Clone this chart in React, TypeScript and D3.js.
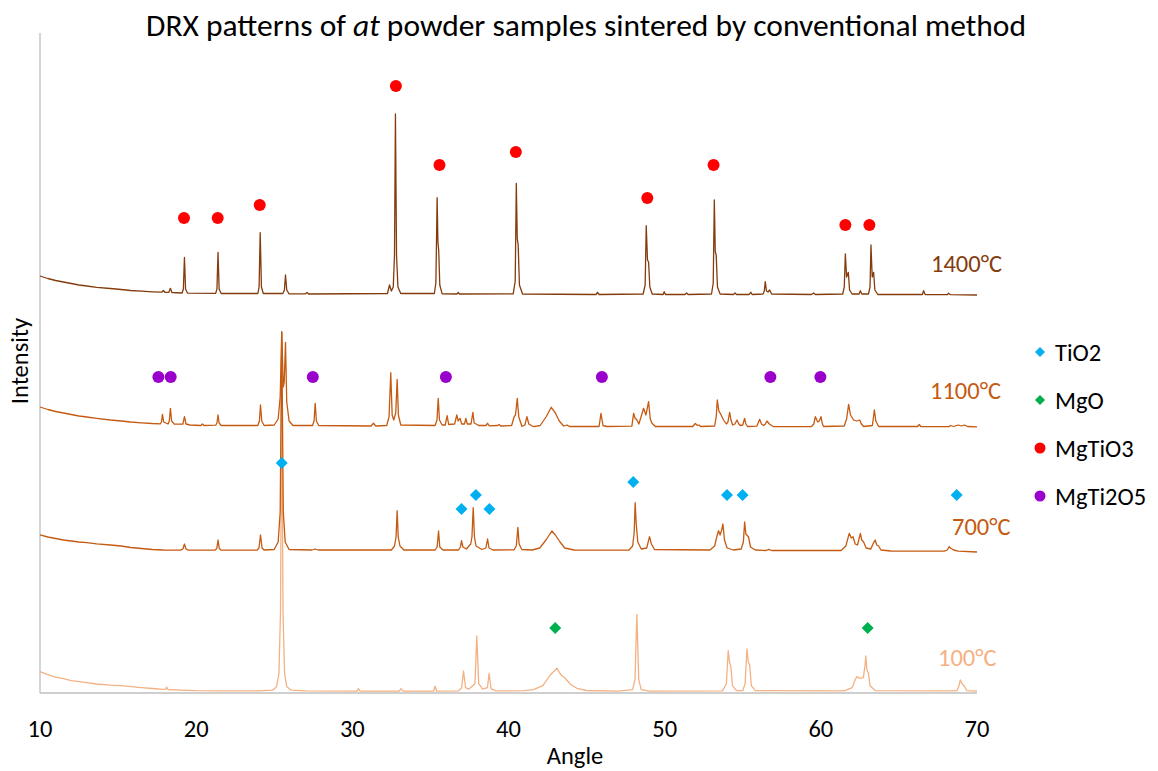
import React from "react";
import * as d3 from "d3";

// ---------- DATA ----------
const xTicks = [10, 20, 30, 40, 50, 60, 70];
const tempLabels = ["100°C", "700°C", "1100°C", "1400°C"];
const offsets = [1.3, 141, 266, 398];

const trace100: [number, number][] = [
  [10,20],[10.5,17],[11,14.5],[11.5,13],[12,11],[12.5,10],[13,9],[13.6,7.7],[14.5,6.5],[15.2,6],[15.8,5],[16.5,4],[17.2,3.2],[17.9,2.4],[18.05,2.5],[18.11,4.5],[18.2,2.2],[19,1.6],[20,1],[22,0.8],[24,0.8],[24.9,1.5],[25.15,5],[25.3,18],[25.4,80],[25.48,305],[25.56,80],[25.66,18],[25.8,5],[26.1,1.5],[27,0.8],[30.3,0.6],[30.39,3],[30.5,0.6],[33.0,0.5],[33.12,3],[33.25,0.5],[35.2,0.5],[35.3,5.7],[35.4,0.5],[36.8,0.8],[37.0,4],[37.12,20.7],[37.25,4],[37.45,2.5],[37.85,8],[37.97,55.7],[38.09,8],[38.35,2.5],[38.65,4],[38.76,18.4],[38.88,3],[39.2,0.8],[41,1],[41.6,2],[42.2,6],[42.67,16.7],[43.1,23.4],[43.35,17],[43.63,13.4],[44.0,7],[44.38,3.4],[45,1.2],[47,0.6],[47.95,2],[48.1,12],[48.22,77.4],[48.34,12],[48.5,2],[49,0.6],[53.7,0.8],[53.95,8],[54.07,41],[54.15,30],[54.24,25],[54.34,6],[54.6,1],[55.0,1],[55.15,8],[55.27,42.7],[55.35,30],[55.44,26.7],[55.55,6],[55.8,1],[61.5,0.8],[62.0,4],[62.2,12],[62.3,15],[62.52,13.4],[62.72,14],[62.82,25],[62.88,35.7],[62.95,22],[63.05,18.4],[63.15,6],[63.5,1],[68.7,0.8],[68.85,6],[68.93,11.7],[69.05,8],[69.18,5.7],[69.35,1],[70,0.5],
];

const trace700: [number, number][] = [
  [10,17.2],[10.5,15],[11,13.5],[11.5,12],[12,11],[12.5,10],[13,9.3],[13.63,8.2],[14.5,7],[15.2,6],[15.8,4.5],[16.5,3.5],[17.2,2.5],[17.9,2],[19,1.8],[19.15,3],[19.25,8],[19.35,3],[19.5,1.8],[21.2,1.8],[21.32,3.5],[21.4,12],[21.48,3.5],[21.6,1.8],[23.9,1.8],[24.02,4],[24.12,17],[24.22,4],[24.35,2],[25.0,2.5],[25.25,10],[25.38,40],[25.48,220],[25.58,40],[25.7,10],[25.95,2.5],[27.4,2],[27.62,3],[27.8,2],[32.5,2],[32.7,6],[32.8,15],[32.87,41.3],[32.94,15],[33.05,6],[33.3,2],[35.3,2],[35.43,5],[35.52,21],[35.6,5],[35.8,2],[36.8,2],[36.92,5],[36.99,11.3],[37.08,5],[37.3,3],[37.58,8],[37.66,15],[37.74,44.3],[37.82,15],[37.92,6],[38.3,2.5],[38.55,4],[38.66,13],[38.75,4],[39,2],[40.35,2.2],[40.5,6],[40.6,24.7],[40.68,8],[40.85,2.5],[41.5,2],[42.0,4],[42.4,12],[42.78,21],[43.0,17],[43.3,10],[43.6,4],[44.2,2],[47.7,1.8],[47.95,6],[48.05,20],[48.11,49.3],[48.18,28],[48.28,10],[48.5,3],[48.85,4],[49.03,15.3],[49.15,8],[49.35,2.5],[52.9,2],[53.2,6],[53.35,16],[53.45,21.3],[53.55,17],[53.65,22],[53.73,28],[53.83,12],[54.0,4],[54.4,2],[54.9,3],[55.04,10],[55.12,30],[55.2,18],[55.37,15],[55.5,5],[55.8,2],[56.5,1.5],[56.66,2.7],[56.85,1.5],[61.3,1.5],[61.6,6],[61.82,18.7],[61.95,14],[62.06,15.3],[62.2,8],[62.35,7],[62.53,18.7],[62.62,12],[62.74,10],[62.9,4],[63.2,3],[63.4,10],[63.48,12],[63.58,7],[63.7,6],[63.85,2],[64.5,1],[67.9,0.8],[68.1,2],[68.21,5.3],[68.3,4],[68.5,2],[68.8,0.8],[70,0],
];

const trace1100: [number, number][] = [
  [10,20],[10.5,17.5],[11,15.5],[11.5,14],[12,12.5],[12.5,11],[13,10],[13.63,8.7],[14.5,7],[15.2,6],[15.8,5],[16.5,4.2],[17.2,3.5],[17.7,3.2],[17.78,5],[17.84,12.7],[17.92,5],[18.2,3],[18.28,6],[18.35,18.7],[18.43,6],[18.6,2.8],[19.15,3],[19.25,10.3],[19.35,3],[19.6,2],[20.3,1.5],[20.4,3],[20.5,1.5],[21.25,1.8],[21.33,4],[21.4,12],[21.47,4],[21.6,1.5],[23.95,1.5],[24.05,6],[24.12,22],[24.2,6],[24.35,1.5],[25.0,2],[25.25,8],[25.38,30],[25.48,95.3],[25.58,40],[25.64,45],[25.72,84.7],[25.8,25],[25.95,6],[26.2,1.5],[27.45,1.5],[27.55,6],[27.62,23.7],[27.7,6],[27.85,1.5],[31.2,1],[31.35,3.7],[31.5,1],[32.2,1.5],[32.35,10],[32.46,54.3],[32.55,12],[32.65,7],[32.78,14],[32.87,47.7],[32.95,12],[33.1,2],[35.3,1.5],[35.42,7],[35.5,28.7],[35.58,7],[35.75,2],[35.95,2],[36.07,11.3],[36.17,2.5],[36.55,3],[36.69,12],[36.78,6],[36.9,8.7],[37.0,3],[37.18,3],[37.27,8.7],[37.36,3],[37.6,3],[37.72,14.7],[37.8,4],[38.1,1.5],[38.55,1.5],[38.66,3.7],[38.77,1.2],[39.3,1.5],[39.4,2.5],[39.5,1],[40.2,1.5],[40.36,10.3],[40.45,12],[40.56,28.7],[40.66,10],[40.86,0.5],[41.05,2],[41.18,10.3],[41.3,3],[41.6,0.3],[42.03,1.5],[42.4,10],[42.74,19.7],[43.0,14],[43.25,6],[43.53,1],[43.75,2],[43.9,0.5],[45.8,0.5],[45.92,13.7],[46.05,1.5],[46.3,0.5],[47.9,0.8],[48.01,13.7],[48.1,9],[48.22,7],[48.35,3],[48.65,18.7],[48.8,12],[48.97,25.3],[49.08,8],[49.18,4],[49.4,0.5],[51.8,0.5],[51.96,3.5],[52.1,1.5],[52.2,2],[52.3,0.5],[53.2,1],[53.3,10],[53.37,27],[53.47,16],[53.56,13.7],[53.77,7],[53.95,3],[54.05,5],[54.16,14.7],[54.25,7],[54.35,2],[54.5,3],[54.63,7],[54.75,3],[54.84,1.5],[55.0,2],[55.12,8.7],[55.2,3],[55.31,0.5],[55.9,0.8],[56.08,7.7],[56.2,3],[56.34,1.5],[56.45,3],[56.55,6],[56.7,3],[56.98,0.3],[59.4,0.5],[59.55,3],[59.65,10.3],[59.8,5],[59.9,6],[60.01,10.3],[60.1,3],[60.18,0.5],[61.5,1],[61.65,8],[61.78,22.7],[61.9,12],[62.1,7],[62.3,6],[62.49,7],[62.6,3],[62.74,0.5],[63.3,1.5],[63.43,17],[63.52,6],[63.7,0.5],[65,0.5],[66.2,0.5],[66.3,2.5],[66.4,0.5],[68.2,0.3],[68.3,1.5],[68.5,0.5],[68.8,2],[69.0,1],[69.2,2],[69.4,0.5],[70,0.2],
];

const trace1400: [number, number][] = [
  [10,19],[10.5,16.5],[11,14.5],[11.5,13],[12,11.5],[12.5,10],[13,9],[13.63,7.7],[14.5,6.5],[15.2,5.5],[15.8,4.5],[16.5,3.8],[17.2,3.2],[17.8,2.8],[17.9,4.5],[18.0,2.7],[18.25,2.7],[18.35,6.7],[18.45,2.5],[19.1,2],[19.18,6],[19.25,37.7],[19.32,6],[19.45,1.8],[21.25,1.6],[21.33,6],[21.4,42.7],[21.47,6],[21.6,1.5],[23.95,1.5],[24.03,8],[24.1,62.3],[24.18,8],[24.3,1.5],[25.55,1.5],[25.65,5],[25.72,20],[25.8,5],[25.95,1.2],[27.0,1.2],[27.1,2.5],[27.2,1],[32.25,1.5],[32.38,10],[32.5,4],[32.62,8],[32.7,40],[32.76,181],[32.83,40],[32.92,8],[33.1,1.5],[35.25,1.5],[35.35,12],[35.43,97.3],[35.48,52.7],[35.53,45],[35.6,10],[35.75,1.2],[36.7,1],[36.78,2.5],[36.86,1],[40.3,1.2],[40.43,14],[40.5,111.7],[40.56,56.7],[40.62,50],[40.7,10],[40.9,1],[45.6,0.5],[45.7,2.7],[45.8,0.5],[48.62,1],[48.75,10],[48.82,69.3],[48.9,35],[48.97,33],[49.05,8],[49.2,1],[49.9,0.5],[49.97,3.3],[50.05,0.5],[51.3,0.5],[51.4,2],[51.5,0.5],[53.0,1],[53.11,12],[53.18,95],[53.24,43.3],[53.3,40],[53.38,8],[53.55,1],[54.4,0.5],[54.5,2],[54.6,0.5],[55.4,0.5],[55.52,2.7],[55.6,0.5],[56.3,1],[56.38,4],[56.44,13.3],[56.52,4],[56.62,3],[56.72,5],[56.85,1],[59.4,0.5],[59.54,2],[59.65,0.5],[61.4,1],[61.5,8],[61.57,41],[61.65,18],[61.76,22.7],[61.84,5],[62.0,1],[62.45,1],[62.53,4.3],[62.62,1],[63.05,1],[63.15,8],[63.21,50],[63.29,18],[63.38,22.7],[63.46,5],[63.65,0.5],[66.5,0.5],[66.58,4.3],[66.68,0.5],[68.1,0.3],[68.18,1.7],[68.3,0.3],[70,0],
];

const traces = [trace100, trace700, trace1100, trace1400];

// phase marker series (angle, absolute intensity)
const tio2: [number, number][] = [[25.48,230],[36.99,184],[37.91,198],[38.78,184],[47.99,211],[53.99,198],[54.99,198],[68.7,198]];
const mgo: [number, number][] = [[42.99,65],[63.0,65]];
const mgtio3: [number, number][] = [[19.22,475],[21.38,475],[24.07,488],[32.79,607],[35.58,528],[40.47,541],[48.89,495],[53.13,528],[61.57,468],[63.11,468]];
const mgti2o5: [number, number][] = [[17.58,316],[18.37,316],[27.47,316],[35.99,316],[45.98,316],[56.77,316],[59.97,316]];

const phaseNames = ["TiO2", "MgO", "MgTiO3", "MgTi2O5"];
const phaseSeries = [tio2, mgo, mgtio3, mgti2o5];

// ---------- STYLE / LAYOUT ----------
const W = 1158, H = 771;
const traceColors = ["#F4B183", "#C55A11", "#C55A11", "#843C0C"];
const phaseColors = ["#00B0F0", "#00B050", "#FF0000", "#9900CC"];
const phaseShapes = ["diamond", "diamond", "circle", "circle"];
const labelPos = [[938, 666], [952, 535], [930, 399], [931, 272]];
const FONT = "Carlito, Calibri, Lato, 'Open Sans', sans-serif";
const FS = 24.5;

const x = d3.scaleLinear().domain([10, 70]).range([40, 977]);
const y = d3.scaleLinear().domain([0, 660]).range([693, 33]);

function Marker({ shape, cx, cy, r, fill }: { shape: string; cx: number; cy: number; r: number; fill: string }) {
  if (shape === "circle") return <circle cx={cx} cy={cy} r={r} fill={fill} />;
  return <path d={`M${cx},${cy - r}L${cx + r},${cy}L${cx},${cy + r}L${cx - r},${cy}Z`} fill={fill} />;
}

export default function App() {
  const lines = traces.map((t, i) =>
    d3.line<[number, number]>().x((d) => x(d[0])).y((d) => y(d[1] + offsets[i]))(t) || ""
  );
  return (
    <svg width={W} height={H} style={{ position: "absolute", left: 0, top: 0, background: "#fff" }} fontFamily={FONT}>
      <rect width={W} height={H} fill="#fff" />
      <text x={586} y={36} fontSize={31.5} textAnchor="middle" fill="#000">
        DRX patterns of <tspan fontStyle="italic">at</tspan> powder samples sintered by conventional method
      </text>
      {/* axes */}
      <line x1={40} x2={40} y1={33} y2={693} stroke="#BFBFBF" strokeWidth={1.3} />
      <line x1={40} x2={977} y1={693} y2={693} stroke="#BFBFBF" strokeWidth={1.3} />
      {xTicks.map((t) => (
        <text key={t} x={x(t)} y={737} fontSize={FS} textAnchor="middle" fill="#000">{t}</text>
      ))}
      <text x={575} y={764} fontSize={FS} textAnchor="middle" fill="#000">Angle</text>
      <text transform="translate(28,361) rotate(-90)" fontSize={FS} textAnchor="middle" fill="#000">Intensity</text>
      {/* traces */}
      {lines.map((d, i) => (
        <path key={i} d={d} fill="none" stroke={traceColors[i]} strokeWidth={1.3} strokeLinejoin="round" />
      ))}
      {tempLabels.map((l, i) => (
        <text key={l} x={labelPos[i][0]} y={labelPos[i][1]} fontSize={FS} fill={traceColors[i]}>{l}</text>
      ))}
      {/* phase markers */}
      {phaseSeries.map((s, i) =>
        s.map((p, j) => (
          <Marker key={i + "-" + j} shape={phaseShapes[i]} cx={x(p[0])} cy={y(p[1])} r={6} fill={phaseColors[i]} />
        ))
      )}
      {/* legend */}
      {phaseNames.map((n, i) => {
        const yy = 352 + i * 48;
        return (
          <g key={n}>
            <Marker shape={phaseShapes[i]} cx={1040} cy={yy} r={phaseShapes[i] === "circle" ? 5.5 : 5} fill={phaseColors[i]} />
            <text x={1055} y={yy + 8.5} fontSize={FS} fill="#000">{n}</text>
          </g>
        );
      })}
    </svg>
  );
}
